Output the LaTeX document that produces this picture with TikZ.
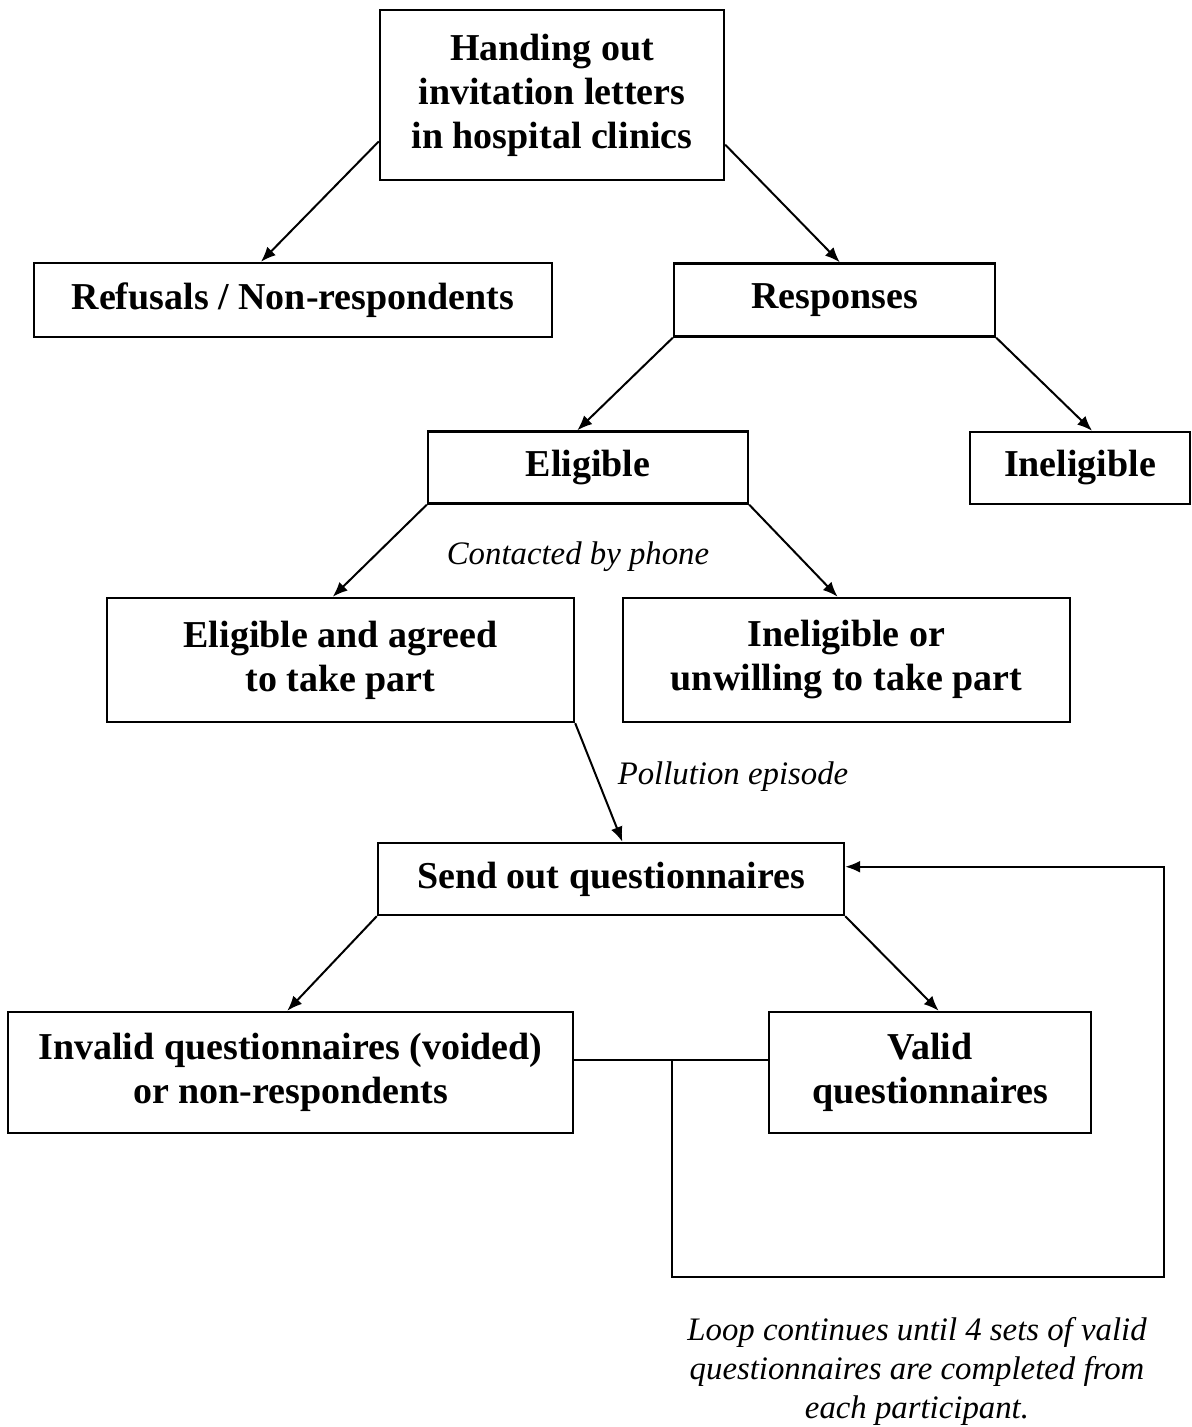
\documentclass[tikz,border=0pt]{standalone}
\usepackage{fontspec}
\setmainfont{Liberation Serif}
\usetikzlibrary{shapes,arrows.meta}

\begin{document}
\begin{tikzpicture}[x=0.5pt, y=-0.5pt]
        \tikzstyle{block} = [rectangle, draw, line width=1.2pt, align=center, inner sep=2pt, font=\fontsize{19}{22}\selectfont\bfseries]
        \tikzstyle{note} = [align=center, font=\fontsize{16.4}{19.5}\selectfont\itshape]
        \tikzstyle{line} = [draw, line width=1pt, -{Latex[length=7.5pt,width=6pt]}]

        \useasboundingbox (0,0) rectangle (1191,1427);

        \node [block, minimum width=172pt, minimum height=85pt] (invite) at (552,95) {Handing out\\invitation letters\\in hospital clinics};
        \node [block, minimum width=259pt, minimum height=37pt] (refuse) at (293,300) {Refusals / Non-respondents};
        \node [block, minimum width=160.5pt, minimum height=36.5pt] (resp) at (834.5,300) {Responses};
        \node [block, minimum width=160pt, minimum height=36pt] (elig) at (588,467.5) {Eligible};
        \node [block, minimum width=110pt, minimum height=36pt] (inelig) at (1080,468) {Ineligible};
        \node [block, minimum width=233.5pt, minimum height=62pt] (agreed) at (340.5,660) {Eligible and agreed\\to take part};
        \node [block, minimum width=223.5pt, minimum height=62pt] (unwill) at (846.5,660) {Ineligible or\\unwilling to take part};
        \node [block, minimum width=233pt, minimum height=36pt] (send) at (611,879) {Send out questionnaires};
        \node [block, minimum width=282.5pt, minimum height=60.5pt] (invalid) at (290.5,1072.5) {Invalid questionnaires (voided)\\or non-respondents};
        \node [block, minimum width=161pt, minimum height=60.5pt] (valid) at (930,1072.5) {Valid\\questionnaires};

        \node [note] (phone) at (578,557) {Contacted by phone};
        \node [note] (episode) at (733,777) {Pollution episode};
        \node [note] (loopnote) at (917,1371) {Loop continues until 4 sets of valid\\questionnaires are completed from\\each participant.};

        \coordinate (split) at (672,1060);
        \coordinate (corner) at (1164,1277);

        \path [line] (invite.195.6) -- (refuse.130);
        \path [line] (invite.344.4) -- (resp.82);
        \path [line] (resp.south west) -- (elig.106);
        \path [line] (resp.south east) -- (inelig.72);
        \path [line] (elig.south west) -- (agreed.97);
        \path [line] (elig.south east) -- (unwill.98);
        \path [line] (agreed.south east) -- (send.73);
        \path [line] (send.south west) -- (invalid.93);
        \path [line] (send.south east) -- (valid.82.5);

        % feedback loop
        \draw [line width=1pt] (invalid.east |- split) -- (valid.west |- split);
        \path [line] (split) |- (corner) |- (send.3);
    \end{tikzpicture}
\end{document}
